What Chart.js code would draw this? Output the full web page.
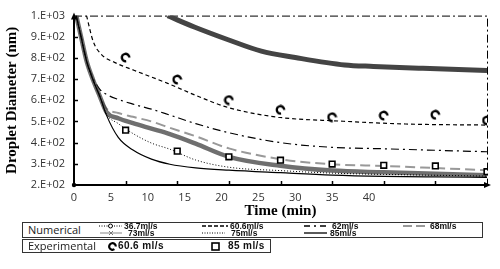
<!DOCTYPE html>
<html lang="en">
<head>
<meta charset="UTF-8">
<title>Droplet Diameter vs Time</title>
<script src="https://cdn.jsdelivr.net/npm/chart.js"></script>
<style>
  body { margin: 0; background: #fff; }
  #wrap { position: relative; width: 500px; height: 269px; }
  #chart { position: absolute; left: 0; top: 0; }
  .box { position: absolute; border: 1px solid #333; box-sizing: border-box; background: #fff; }
  .head { position: absolute; left: 5px; font: 11px 'Open Sans', sans-serif; color: #222; }
  .smp, .txt { position: absolute; display: block; line-height: 0; }
  .smp svg { display: block; }
  .txt { font: bold 8.5px 'Liberation Sans', Arial, sans-serif; color: #111; white-space: nowrap; line-height: 9px; }
  .exp { font-size: 10px; letter-spacing: 0.4px; line-height: 12px; }
</style>
</head>
<body>
<div id="wrap">
  <canvas id="chart" width="500" height="269"></canvas>
  <div class="box" id="numBox" style="left:22px; top:222px; width:461px; height:16px;">
    <span class="head" style="top:-1px;">Numerical</span>
  </div>
  <div class="box" id="expBox" style="left:22px; top:239px; width:249px; height:14px;">
    <span class="head" style="top:-2px;">Experimental</span>
  </div>
</div>

<script>
// ---- data ----
const timeGrid = [0.3, 1, 1.7, 2.6, 3.5, 4.4, 6, 8, 10.5, 13, 16.5, 21, 28, 35, 42, 49, 56];
const num62 = [1000, 900, 790, 705, 652, 628, 604, 582, 558, 530, 490, 447, 400, 378, 371, 364, 357];
const num68 = [1000, 893, 786, 695, 619, 562, 540, 522, 500, 470, 430, 373, 322, 298, 290, 280, 270];
const num73 = [1000, 893, 786, 695, 619, 545, 515, 492, 466, 440, 395, 333, 291, 268, 260, 253, 246];
const num75 = [1000, 893, 786, 695, 619, 535, 490, 443, 398, 369, 318, 284, 268, 256, 250, 246, 242];
const num85 = [1000, 893, 786, 695, 619, 530, 425, 365, 322, 298, 281, 270, 258, 247, 241, 238, 236];

const time367 = [12.7, 14, 16.4, 20.9, 25.4, 30, 36.7, 40.6, 47.3, 56];
const num367 = [1000, 980, 945, 886, 832, 802, 767, 760, 751, 741];

const time606 = [1.7, 2.6, 3.7, 5.5, 8.2, 12.7, 16.8, 20.9, 27.7, 36, 45, 56];
const num606 = [1000, 878, 817, 779, 741, 680, 619, 566, 520, 502, 488, 483];

const expTime = [7, 14, 21, 28, 35, 42, 49, 56];
const exp606 = [802, 698, 601, 555, 520, 528, 532, 505];
const exp85 = [459, 360, 333, 317, 299, 293, 290, 263];

const xTickLabels = ['0', '5', '10', '15', '20', '25', '30', '35', '40'];
const yTickLabels = ['2.E+02', '3.E+02', '4.E+02', '5.E+02', '6.E+02', '7.E+02', '8.E+02', '9.E+02', '1.E+03'];
const xTickMarks = [7, 14, 21, 28, 35, 42, 49];
const yTickMarks = [300, 400, 500, 600, 700, 800, 900];

const numLabels = ['36.7ml/s', '60.6ml/s', '62ml/s', '68ml/s', '73ml/s', '75ml/s', '85ml/s'];
const expLabels = ['60.6 ml/s', '85 ml/s'];

const pts = (xs, ys) => ys.map((y, i) => ({ x: xs[i], y: y }));

// "C" shaped marker for the 60.6 ml/s experiment
function makeC(size) {
  const c = document.createElement('canvas');
  c.width = size; c.height = size;
  const g = c.getContext('2d');
  g.lineWidth = 2.4;
  g.strokeStyle = '#000';
  g.beginPath();
  g.arc(size / 2, size / 2, size / 2 - 1.8, 0.45 * Math.PI, 2 * Math.PI);
  g.stroke();
  return c;
}
const cMark = makeC(11);

// frame, arrows and inward tick marks
const decor = {
  id: 'decor',
  beforeDatasetsDraw(chart) {
    const { ctx, chartArea: a } = chart;
    ctx.save();
    ctx.strokeStyle = '#000';
    ctx.lineWidth = 1;
    ctx.setLineDash([8, 3, 2, 3]);
    ctx.beginPath();
    ctx.moveTo(a.left, a.top + 0.5);
    ctx.lineTo(a.right + 0.5, a.top + 0.5);
    ctx.lineTo(a.right + 0.5, a.bottom);
    ctx.stroke();
    ctx.restore();
  },
  afterDraw(chart) {
    const { ctx, chartArea: a, scales } = chart;
    ctx.save();
    ctx.strokeStyle = '#000';
    ctx.fillStyle = '#000';
    ctx.lineWidth = 1.5;
    xTickMarks.forEach(t => {
      const x = Math.round(scales.x.getPixelForValue(t)) + 0.5;
      ctx.beginPath(); ctx.moveTo(x, a.bottom - 4); ctx.lineTo(x, a.bottom); ctx.stroke();
    });
    yTickMarks.forEach(v => {
      const y = Math.round(scales.y.getPixelForValue(v)) + 0.5;
      ctx.beginPath(); ctx.moveTo(a.left, y); ctx.lineTo(a.left + 4, y); ctx.stroke();
    });
    // arrow heads
    ctx.beginPath();
    ctx.moveTo(a.left, a.top - 3); ctx.lineTo(a.left - 3, a.top + 4); ctx.lineTo(a.left + 3, a.top + 4);
    ctx.closePath(); ctx.fill();
    ctx.beginPath();
    ctx.moveTo(a.right + 4, a.bottom); ctx.lineTo(a.right - 3, a.bottom - 3); ctx.lineTo(a.right - 3, a.bottom + 3);
    ctx.closePath(); ctx.fill();
    ctx.beginPath(); ctx.arc(a.left, a.bottom, 2.2, 0, 2 * Math.PI); ctx.fill();
    ctx.restore();
  }
};

const lineBase = { pointRadius: 0, fill: false, cubicInterpolationMode: 'monotone' };

new Chart(document.getElementById('chart'), {
  type: 'line',
  data: {
    datasets: [
      { label: expLabels[1], data: pts(expTime, exp85), showLine: false, pointStyle: 'rect', pointRadius: 4,
        pointBackgroundColor: '#fff', pointBorderColor: '#000', pointBorderWidth: 1.6, order: 0 },
      { label: expLabels[0], data: pts(expTime, exp606), showLine: false, pointStyle: cMark, order: 1 },
      { ...lineBase, label: numLabels[6], data: pts(timeGrid, num85), borderColor: '#000', borderWidth: 1.2, order: 2 },
      { ...lineBase, label: numLabels[5], data: pts(timeGrid, num75), borderColor: '#000', borderWidth: 1, borderDash: [1, 2], order: 3 },
      { ...lineBase, label: numLabels[4], data: pts(timeGrid, num73), borderColor: 'rgba(55,55,55,0.72)', borderWidth: 4.5, order: 4 },
      { ...lineBase, label: numLabels[3], data: pts(timeGrid, num68), borderColor: '#999', borderWidth: 2, borderDash: [10, 5], order: 5 },
      { ...lineBase, label: numLabels[2], data: pts(timeGrid, num62), borderColor: '#000', borderWidth: 1.2, borderDash: [8, 4, 2, 4], order: 6 },
      { ...lineBase, label: numLabels[1], data: pts(time606, num606), borderColor: '#000', borderWidth: 1.2, borderDash: [4, 3], order: 7 },
      { ...lineBase, label: numLabels[0], data: pts(time367, num367), borderColor: '#444', borderWidth: 5, order: 8 }
    ]
  },
  options: {
    responsive: false,
    animation: false,
    layout: { padding: { top: 10, right: 13, bottom: 48, left: 0 } },
    plugins: { legend: { display: false }, tooltip: { enabled: false } },
    scales: {
      x: {
        type: 'linear', min: 0, max: 56,
        afterFit: s => { s.height = 36; },
        grid: { drawOnChartArea: false, drawTicks: false },
        border: { color: '#000', width: 2 },
        ticks: {
          stepSize: 5, padding: 6, maxRotation: 0, autoSkip: false,
          color: '#333', font: { family: 'Open Sans', size: 11 },
          callback: v => (v % 5 === 0 && v / 5 < xTickLabels.length) ? xTickLabels[v / 5] : ''
        },
        title: { display: true, text: 'Time (min)', color: '#000',
          font: { family: 'Liberation Serif', size: 15, weight: 'bold' }, padding: { top: 0, bottom: 1 } }
      },
      y: {
        min: 200, max: 1000,
        afterFit: s => { s.width = 74; },
        grid: { drawOnChartArea: false, drawTicks: false },
        border: { color: '#000', width: 2 },
        ticks: {
          stepSize: 100, padding: 9, color: '#333', font: { family: 'Open Sans', size: 11 },
          callback: v => yTickLabels[Math.round((v - 200) / 100)]
        },
        title: { display: true, text: 'Droplet Diameter (nm)', color: '#000',
          font: { family: 'Liberation Serif', size: 15, weight: 'bold' }, padding: { top: 3, bottom: 0 } }
      }
    }
  },
  plugins: [decor]
});

// ---- legend boxes ----
const sampleSvg = {
  '36.7ml/s': '<line x1="0" y1="4" x2="23" y2="4" stroke="#000" stroke-width="1" stroke-dasharray="1 1.5"/><circle cx="11.5" cy="4" r="2" fill="#fff" stroke="#000" stroke-width="1"/>',
  '60.6ml/s': '<line x1="0" y1="4" x2="26" y2="4" stroke="#000" stroke-width="1.3" stroke-dasharray="4 2"/>',
  '62ml/s': '<line x1="0" y1="4" x2="22" y2="4" stroke="#000" stroke-width="1.3" stroke-dasharray="6 4 2 4"/>',
  '68ml/s': '<line x1="0" y1="4" x2="23" y2="4" stroke="#999" stroke-width="2" stroke-dasharray="9 4"/>',
  '73ml/s': '<line x1="0" y1="4" x2="22" y2="4" stroke="#888" stroke-width="1"/><path d="M9 2 L13 6 M13 2 L9 6" stroke="#777" stroke-width="1"/>',
  '75ml/s': '<line x1="0" y1="4" x2="23" y2="4" stroke="#000" stroke-width="1" stroke-dasharray="1 1.5"/>',
  '85ml/s': '<line x1="0" y1="4" x2="23" y2="4" stroke="#000" stroke-width="1.3"/>'
};
// [sample x, text x, row y] in page pixels
const numPos = [[99, 124, 226], [202, 230, 226], [304, 332, 226], [403, 430, 226],
                [100, 128, 233], [202, 231, 233], [304, 330, 233]];
const numBox = document.getElementById('numBox');
numLabels.forEach((lab, i) => {
  const [sx, tx, ry] = numPos[i];
  const s = document.createElement('span');
  s.className = 'smp';
  s.style.left = (sx - 23) + 'px';
  s.style.top = (ry - 223 - 4) + 'px';
  s.innerHTML = '<svg width="27" height="8">' + sampleSvg[lab] + '</svg>';
  const t = document.createElement('span');
  t.className = 'txt';
  t.style.left = (tx - 23) + 'px';
  t.style.top = (ry - 223 - 4.5) + 'px';
  t.textContent = lab;
  numBox.appendChild(s);
  numBox.appendChild(t);
});

const expBox = document.getElementById('expBox');
const expSvg = [
  '<svg width="9" height="9"><path d="M6.4 7.2 A3.3 3.3 0 1 1 7.8 4.5" fill="none" stroke="#000" stroke-width="2.2"/></svg>',
  '<svg width="9" height="9"><rect x="1" y="1" width="7" height="7" fill="#fff" stroke="#000" stroke-width="1.6"/></svg>'
];
// [marker x, text x] in page pixels
const expPos = [[108, 118], [211, 228]];
expLabels.forEach((lab, i) => {
  const s = document.createElement('span');
  s.className = 'smp';
  s.style.left = (expPos[i][0] - 23) + 'px';
  s.style.top = '2px';
  s.innerHTML = expSvg[i];
  const t = document.createElement('span');
  t.className = 'txt exp';
  t.style.left = (expPos[i][1] - 23) + 'px';
  t.style.top = '0px';
  t.textContent = lab;
  expBox.appendChild(s);
  expBox.appendChild(t);
});
</script>
</body>
</html>
